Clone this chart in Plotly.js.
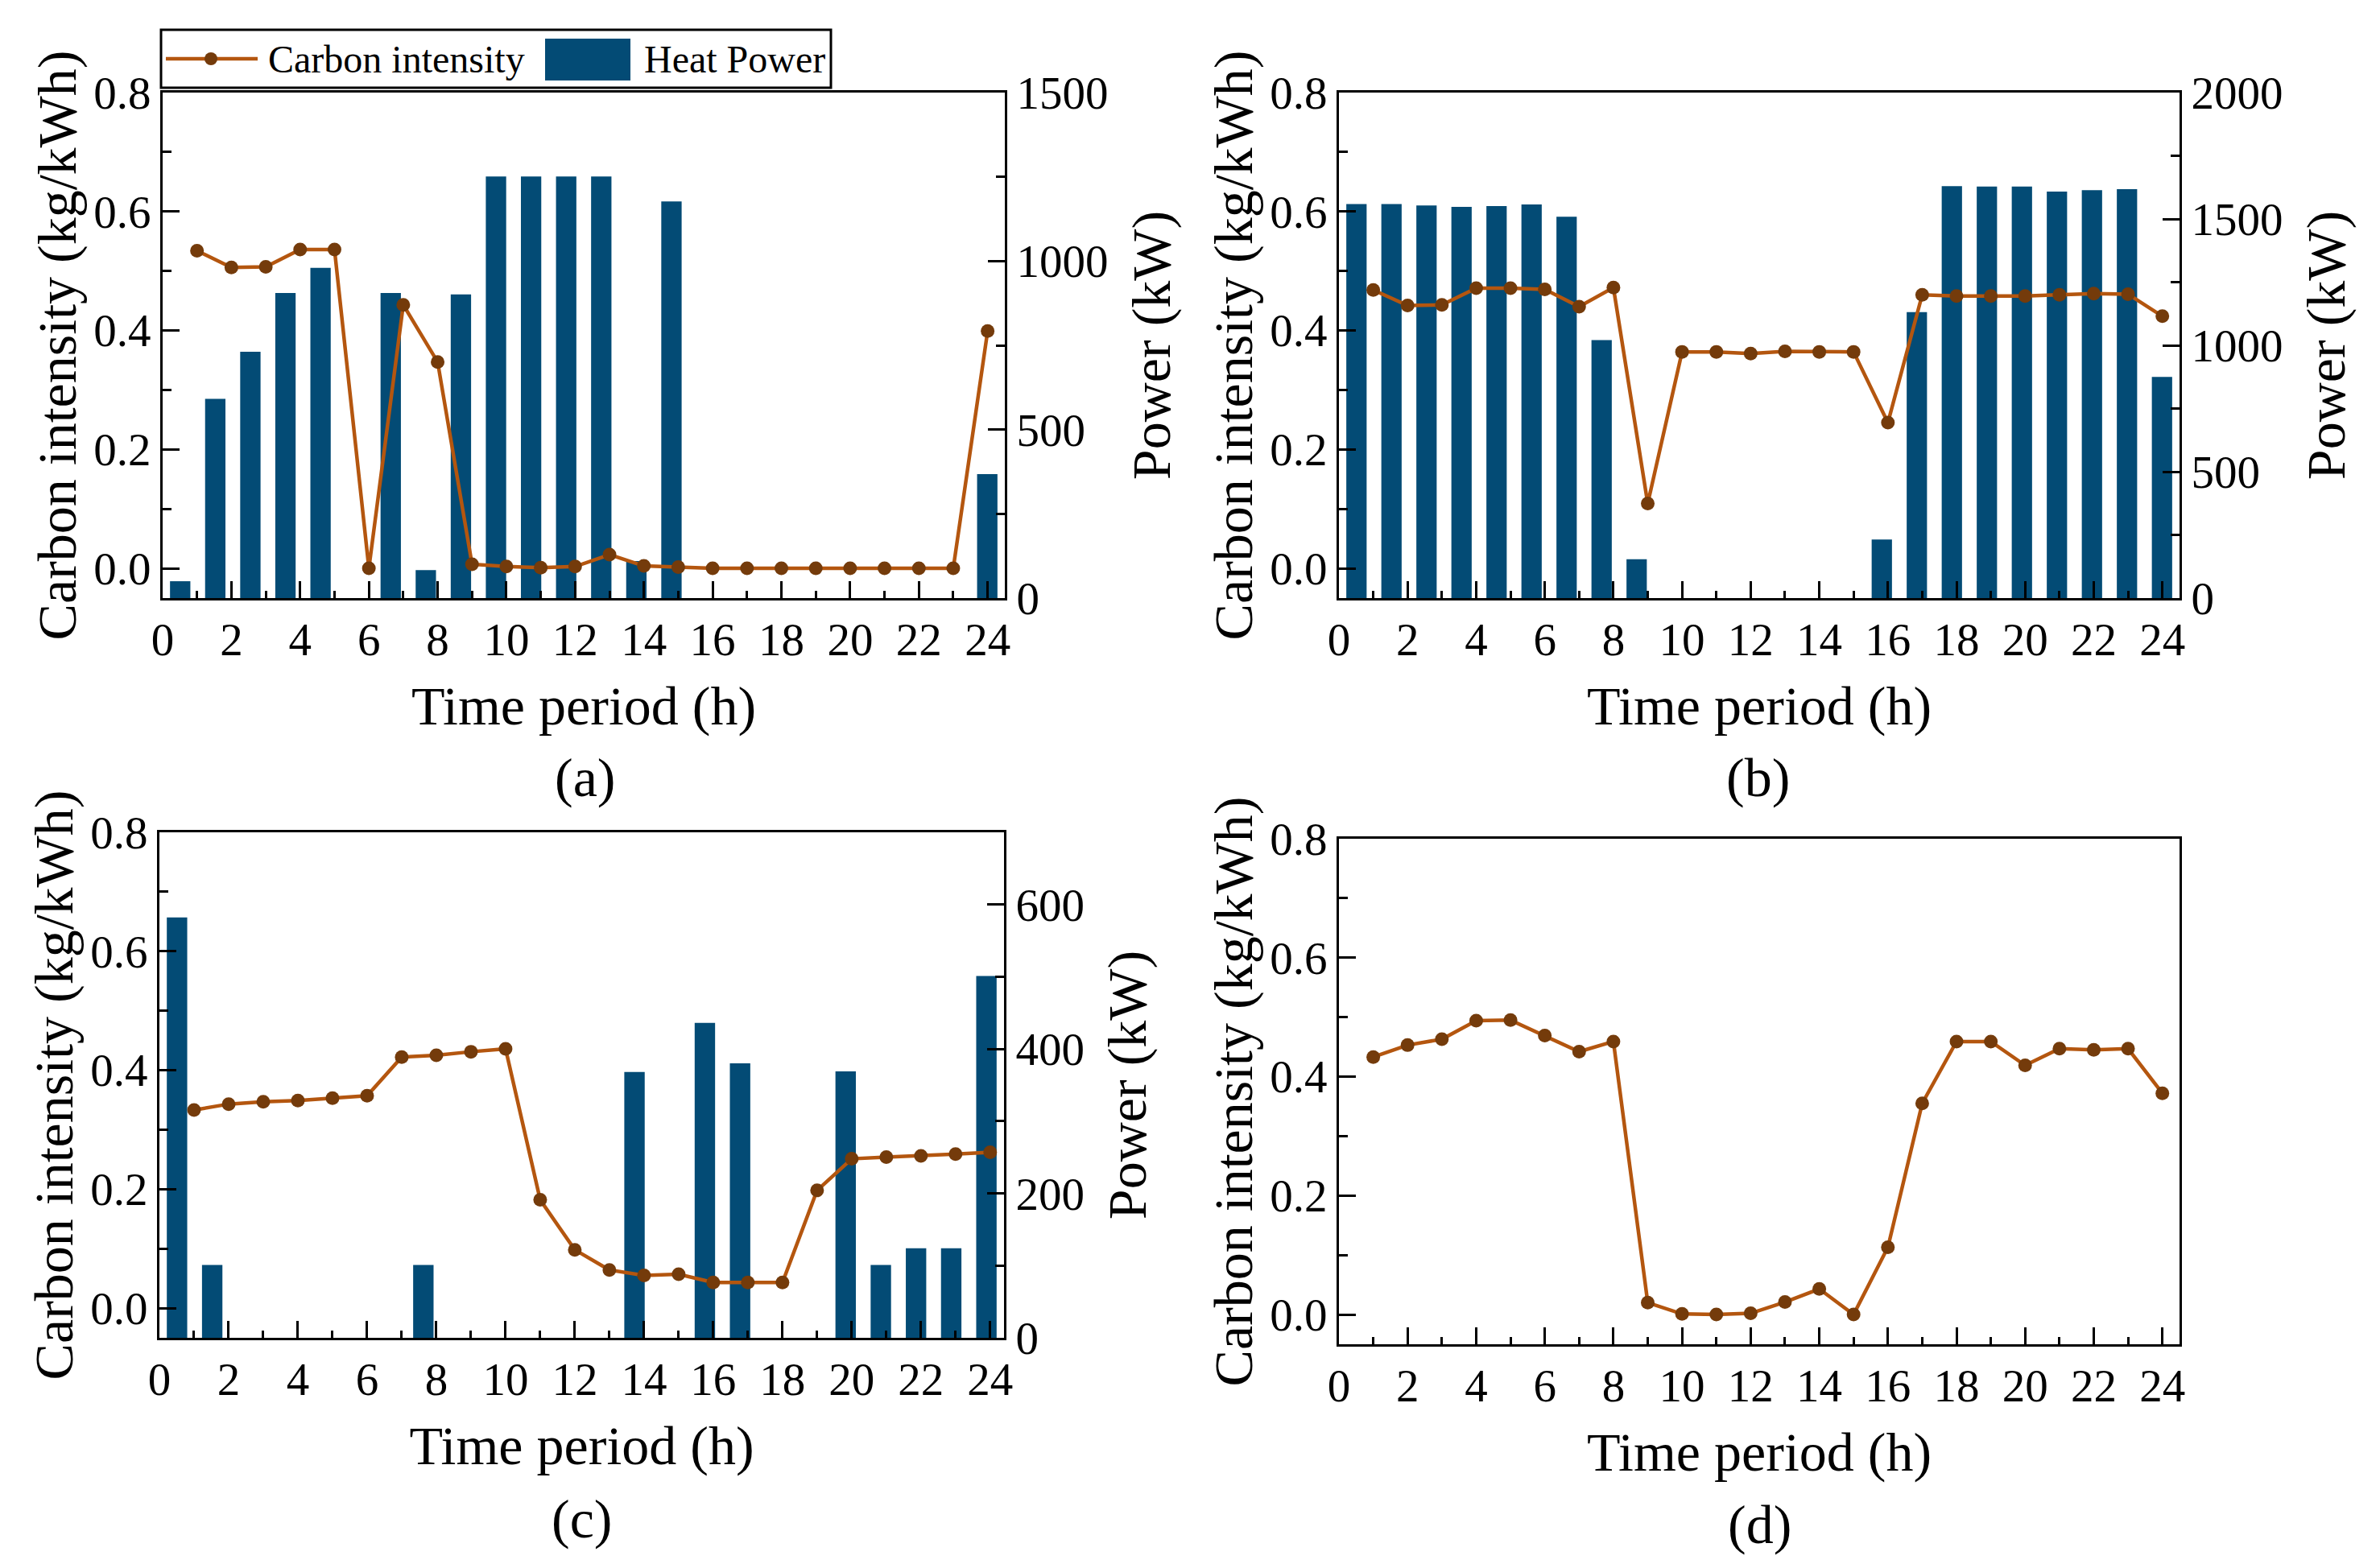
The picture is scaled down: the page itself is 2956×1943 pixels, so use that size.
<!DOCTYPE html>
<html><head><meta charset="utf-8">
<script src="https://cdn.plot.ly/plotly-3.0.1.min.js"></script>
<style>html,body{margin:0;padding:0;background:#fff}#chart{width:2956px;height:1943px}</style>
</head><body><div id="chart"></div>
<script>
// ---------------- data ----------------
const hours = [1,2,3,4,5,6,7,8,9,10,11,12,13,14,15,16,17,18,19,20,21,22,23,24];
const xTickVals = [0,2,4,6,8,10,12,14,16,18,20,22,24];

const carbonA = [0.534,0.506,0.507,0.536,0.536,0.000,0.443,0.347,0.007,0.003,0.001,0.003,0.023,0.004,0.002,0.000,0.000,0.000,0.000,0.000,0.000,0.000,0.000,0.399];
const heatA   = [50,591,731,905,980,0,905,83,901,1251,1251,1251,1251,110,1177,0,0,0,0,0,0,0,0,368];

const carbonB = [0.468,0.442,0.443,0.471,0.471,0.469,0.440,0.472,0.109,0.364,0.364,0.361,0.365,0.364,0.364,0.245,0.460,0.458,0.458,0.458,0.460,0.462,0.461,0.424];
const heatB   = [1559,1559,1553,1548,1551,1557,1509,1021,154,0,0,0,0,0,0,232,1131,1630,1628,1628,1608,1614,1618,875];

const carbonC = [0.333,0.343,0.347,0.349,0.353,0.357,0.422,0.425,0.431,0.436,0.182,0.098,0.064,0.055,0.057,0.043,0.043,0.043,0.198,0.251,0.254,0.256,0.259,0.262];
const heatC   = [582,101,0,0,0,0,0,101,0,0,0,0,0,368,0,436,380,0,0,369,101,124,124,501];

const carbonD = [0.433,0.453,0.463,0.494,0.495,0.469,0.442,0.459,0.020,0.001,0.000,0.002,0.021,0.043,0.000,0.113,0.355,0.459,0.459,0.419,0.447,0.445,0.447,0.372];

const legendNames = ['Carbon intensity','Heat Power'];
const panelLabels = ['(a)','(b)','(c)','(d)'];
const xTitle = 'Time period (h)';
const yTitleLeft = 'Carbon intensity (kg/kWh)';
const yTitleRight = 'Power (kW)';

// ---------------- style ----------------
const W = 2956, H = 1943;
const FAM = 'Liberation Serif';
const BAR = '#034B75', LINE = '#B4560F', MARK = '#743B0B';
const tickFont = {family: FAM, size: 57, color: '#000'};
const titleFont = {family: FAM, size: 68, color: '#000'};
const px = v => v / W, py = v => 1 - v / H;

const dom = {
  a: {x: [px(202), px(1248)], y: [py(743), py(115)]},
  b: {x: [px(1663), px(2707)], y: [py(743), py(115)]},
  c: {x: [px(198), px(1247)], y: [py(1662), py(1034)]},
  d: {x: [px(1663), px(2707)], y: [py(1670), py(1042)]}
};

function lineX(extra) {
  return Object.assign({
    range: [0, 24.5], tickvals: xTickVals, ticks: 'inside', ticklen: 21, tickwidth: 3, tickcolor: '#000',
    minor: {dtick: 1, tick0: 0, ticks: 'inside', ticklen: 9, tickwidth: 3, tickcolor: '#000'},
    showline: true, linewidth: 3, linecolor: '#000', mirror: true, showgrid: false, zeroline: false,
    tickfont: tickFont, title: {text: xTitle, font: titleFont, standoff: 27}, fixedrange: true
  }, extra);
}
function carbonY(extra) {
  return Object.assign({
    range: [-0.05, 0.8], tick0: 0, dtick: 0.2, tickformat: '.1f', ticks: 'inside', ticklen: 21, tickwidth: 3, tickcolor: '#000',
    minor: {dtick: 0.1, tick0: 0, ticks: 'inside', ticklen: 11, tickwidth: 3, tickcolor: '#000'},
    showline: true, linewidth: 3, linecolor: '#000', showgrid: false, zeroline: false,
    tickfont: tickFont, title: {text: yTitleLeft, font: titleFont, standoff: 0}, fixedrange: true
  }, extra);
}
function powerY(extra) {
  return Object.assign({
    side: 'right', tick0: 0, ticks: 'inside', ticklen: 21, tickwidth: 3, tickcolor: '#000',
    showline: true, linewidth: 3, linecolor: '#000', showgrid: false, zeroline: false,
    tickfont: tickFont, title: {text: yTitleRight, font: titleFont, standoff: 30}, fixedrange: true
  }, extra);
}
const barX = d => ({domain: d, range: [0.5, 24.5], visible: false, fixedrange: true});

function barTrace(vals, xa, ya) {
  return {type: 'bar', x: hours, y: vals, xaxis: xa, yaxis: ya, width: 0.58,
          marker: {color: BAR, line: {width: 0}}, name: legendNames[1], showlegend: false, hoverinfo: 'skip'};
}
function lineTrace(vals, xa, ya) {
  return {type: 'scatter', mode: 'lines+markers', x: hours, y: vals, xaxis: xa, yaxis: ya,
          line: {color: LINE, width: 4.5}, marker: {color: MARK, size: 17},
          name: legendNames[0], showlegend: false, hoverinfo: 'skip', cliponaxis: false};
}

const data = [
  barTrace(heatA, 'x', 'y'), lineTrace(carbonA, 'x2', 'y2'),
  barTrace(heatB, 'x3', 'y3'), lineTrace(carbonB, 'x4', 'y4'),
  barTrace(heatC, 'x5', 'y5'), lineTrace(carbonC, 'x6', 'y6'),
  lineTrace(carbonD, 'x7', 'y7')
];

const layout = {
  width: W, height: H, margin: {l: 0, r: 0, t: 0, b: 0},
  paper_bgcolor: '#fff', plot_bgcolor: 'rgba(0,0,0,0)', showlegend: false,
  font: {family: FAM, color: '#000'},
  xaxis: barX(dom.a.x),
  yaxis: powerY({domain: dom.a.y, anchor: 'x', range: [0, 1500], dtick: 500,
                 minor: {dtick: 250, ticks: 'inside', ticklen: 11, tickwidth: 3, tickcolor: '#000'}}),
  xaxis2: lineX({overlaying: 'x', anchor: 'y2'}),
  yaxis2: carbonY({overlaying: 'y', anchor: 'x2', side: 'left'}),

  xaxis3: barX(dom.b.x),
  yaxis3: powerY({domain: dom.b.y, anchor: 'x3', range: [0, 2000], dtick: 500,
                  minor: {dtick: 250, ticks: 'inside', ticklen: 11, tickwidth: 3, tickcolor: '#000'}}),
  xaxis4: lineX({overlaying: 'x3', anchor: 'y4'}),
  yaxis4: carbonY({overlaying: 'y3', anchor: 'x4', side: 'left'}),

  xaxis5: barX(dom.c.x),
  yaxis5: powerY({domain: dom.c.y, anchor: 'x5', range: [0, 700], dtick: 200,
                  minor: {dtick: 100, ticks: 'inside', ticklen: 11, tickwidth: 3, tickcolor: '#000'}}),
  xaxis6: lineX({overlaying: 'x5', anchor: 'y6', range: [0, 24.4]}),
  yaxis6: carbonY({overlaying: 'y5', anchor: 'x6', side: 'left'}),

  xaxis7: lineX({domain: dom.d.x, anchor: 'y7'}),
  yaxis7: carbonY({domain: dom.d.y, anchor: 'x7', mirror: true}),

  shapes: [
    {type: 'rect', xref: 'paper', yref: 'paper', x0: px(200), x1: px(1032), y0: py(109), y1: py(37),
     line: {color: '#000', width: 3}, fillcolor: '#fff'},
    {type: 'line', xref: 'paper', yref: 'paper', x0: px(206), x1: px(320), y0: py(73), y1: py(73),
     line: {color: LINE, width: 4.5}},
    {type: 'circle', xref: 'paper', yref: 'paper', x0: px(254), x1: px(270), y0: py(81), y1: py(65),
     line: {width: 0}, fillcolor: MARK},
    {type: 'rect', xref: 'paper', yref: 'paper', x0: px(677), x1: px(783), y0: py(100), y1: py(48),
     line: {width: 0}, fillcolor: BAR}
  ],
  annotations: [
    {xref: 'paper', yref: 'paper', x: px(331), y: py(74), xanchor: 'left', yanchor: 'middle', showarrow: false,
     text: legendNames[0], font: {family: FAM, size: 48, color: '#000'}},
    {xref: 'paper', yref: 'paper', x: px(798), y: py(74), xanchor: 'left', yanchor: 'middle', showarrow: false,
     text: legendNames[1], font: {family: FAM, size: 48, color: '#000'}},
    {xref: 'paper', yref: 'paper', x: px(726), y: py(966), xanchor: 'center', yanchor: 'middle', showarrow: false,
     text: panelLabels[0], font: titleFont},
    {xref: 'paper', yref: 'paper', x: px(2183), y: py(966), xanchor: 'center', yanchor: 'middle', showarrow: false,
     text: panelLabels[1], font: titleFont},
    {xref: 'paper', yref: 'paper', x: px(722), y: py(1887), xanchor: 'center', yanchor: 'middle', showarrow: false,
     text: panelLabels[2], font: titleFont},
    {xref: 'paper', yref: 'paper', x: px(2185), y: py(1894), xanchor: 'center', yanchor: 'middle', showarrow: false,
     text: panelLabels[3], font: titleFont}
  ]
};

Plotly.newPlot('chart', data, layout, {staticPlot: true, displayModeBar: false});
</script>
</body></html>
